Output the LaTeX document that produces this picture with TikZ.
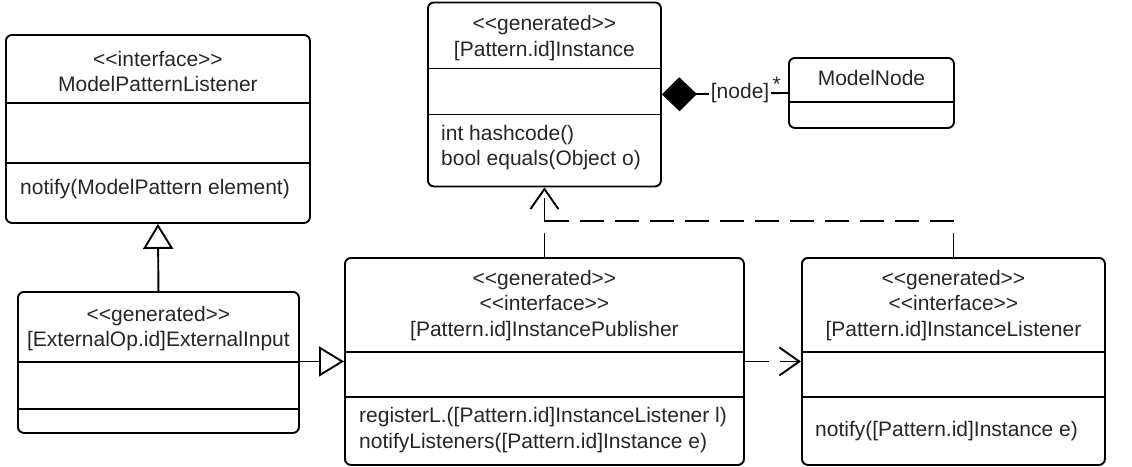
\documentclass[tikz,border=0pt]{standalone}
\usepackage{fontspec}
\setmainfont{Liberation Sans}
\usetikzlibrary{arrows.meta, positioning}

\begin{document}
\begin{tikzpicture}[
    x=1pt, y=-1pt,
    cls/.style={rectangle, draw, line width=1.9pt, rounded corners=6pt, anchor=north west, inner sep=0pt},
    sep/.style={line width=1.9pt},
    txt/.style={font=\fontsize{21}{25.5}\selectfont, align=center, inner sep=0pt, text=black!85},
    ops/.style={txt, align=left, anchor=west},
    gen/.style={draw, line width=1.9pt, -{Triangle[open, length=25pt, width=30pt]}},
    comp/.style={draw, line width=1.9pt, {Diamond[length=35pt, width=34pt]}-},
    dep/.style={draw, line width=1.9pt, dash pattern=on 24pt off 11pt, -{Straight Barb[length=20pt, width=28pt]}}
]
\useasboundingbox (0,0) rectangle (1132,466);

% Place the class boxes
\node [cls, minimum width=304pt, minimum height=188pt] (mpl) at (5,34) {};
\node [cls, minimum width=233pt, minimum height=184pt] (inst) at (427,1.5) {};
\node [cls, minimum width=165pt, minimum height=70pt] (mnode) at (788,57) {};
\node [cls, minimum width=281pt, minimum height=141pt] (ext) at (17,291) {};
\node [cls, minimum width=399pt, minimum height=207pt] (pub) at (344,257) {};
\node [cls, minimum width=303pt, minimum height=207pt] (lst) at (801,257) {};

% Compartment lines
\foreach \b/\d in {mpl/69, mpl/129, inst/67, inst/113, mnode/45, ext/71, ext/118, pub/95, pub/140, lst/95, lst/140}
    \draw [sep] ([yshift=-\d pt]\b.north west) -- ([yshift=-\d pt]\b.north east);

% Names and operations
\node [txt, below=17pt of mpl.north] (mpl-name) {<{}<interface>{}>\\ModelPatternListener};
\node [ops] (mpl-ops) at (20,189) {notify(ModelPattern element)};
\node [txt, below=14pt of inst.north] (inst-name) {<{}<generated>{}>\\{}[Pattern.id]Instance};
\node [ops] (inst-ops) at (441,147.5) {int hashcode()\\bool equals(Object o)};
\node [txt, below=13pt of mnode.north] (mnode-name) {ModelNode};
\node [txt, below=15pt of ext.north] (ext-name) {<{}<generated>{}>\\{}[ExternalOp.id]ExternalInput};
\node [txt, below=13pt of pub.north] (pub-name) {<{}<generated>{}>\\<{}<interface>{}>\\{}[Pattern.id]InstancePublisher};
\node [ops] (pub-ops) at (359,430) {registerL.([Pattern.id]InstanceListener l)\\notifyListeners([Pattern.id]Instance e)};
\node [txt, below=13pt of lst.north] (lst-name) {<{}<generated>{}>\\<{}<interface>{}>\\{}[Pattern.id]InstanceListener};
\node [ops] (lst-ops) at (815,431) {notify([Pattern.id]Instance e)};

% Draw the relations
\draw [gen] (ext.north) -- (mpl.south);
\draw [gen] (pub.west -| ext.east) -- (pub.west);
\draw [comp] (inst.east) -- node [txt, pos=0.62, fill=white, inner sep=2pt] {[node]} node [txt, pos=0.91, above=1pt] {*} (mnode.west);
\draw [dep] (pub.east) -- (lst.west);
\draw [dep] (pub.north) -- (inst.south);
\path (pub.north) ++(0,-36) coordinate (join);
\draw [dep, -] (lst.north) |- (join);

\end{tikzpicture}
\end{document}
